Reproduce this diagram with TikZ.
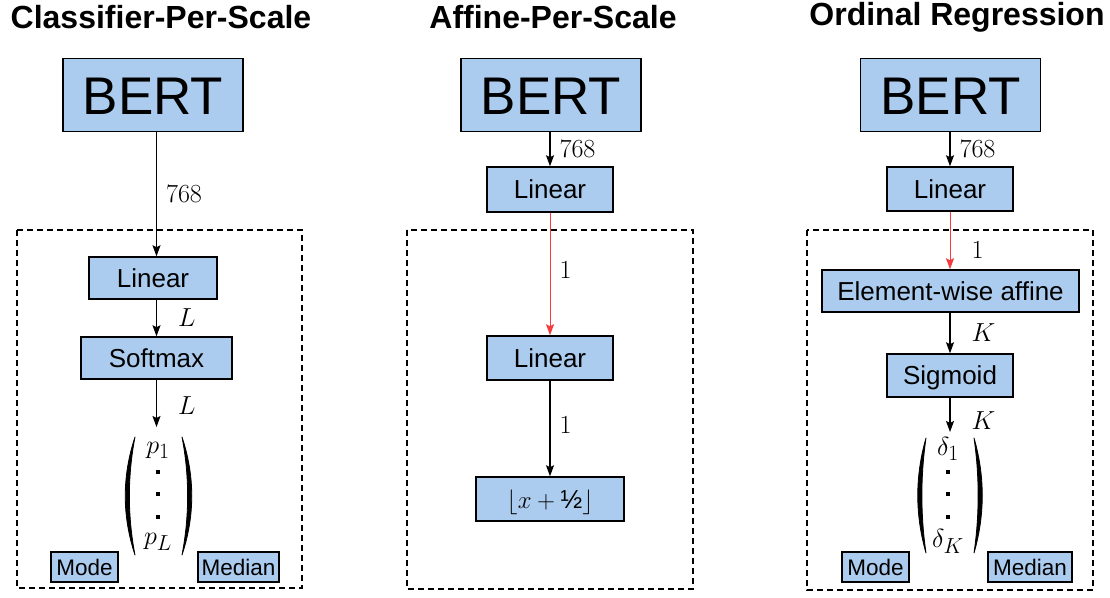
\documentclass[tikz,border=0pt]{standalone}
\usepackage{fontspec}
\usepackage{graphicx}
\newfontfamily\helv{Liberation Sans}
\usetikzlibrary{arrows.meta,calc}
\definecolor{boxblue}{RGB}{171,204,238}
\definecolor{redline}{RGB}{245,60,60}
\newcommand\mlab[1]{\scalebox{1.05}{$#1$}}
\begin{document}
\begin{tikzpicture}[x=1pt,y=-1pt,
  blk/.style={draw=black,line width=1.5pt,fill=boxblue,inner sep=0pt,text=black},
  mid/.style={blk,minimum height=42pt,text height=20.6pt,text depth=2pt,font=\helv\fontsize{26}{31}\selectfont},
  bertbox/.style={blk,minimum width=180pt,minimum height=73pt,text height=40pt,text depth=2pt,font=\helv\fontsize{53}{60}\selectfont},
  smallbox/.style={blk,minimum height=30pt,text height=18pt,text depth=1.9pt,font=\helv\fontsize{22.5}{26}\selectfont},
  arr/.style={-{Stealth[length=11pt,width=8pt,inset=2pt]},line width=1.1pt},
  redarr/.style={-{Stealth[length=11pt,width=8pt,inset=2pt]},line width=1pt,draw=redline},
  lab/.style={anchor=west,inner sep=0pt,xshift=9pt,font=\fontsize{24.88}{30}\selectfont},
  labw/.style={lab,xshift=12pt},
  mathtxt/.style={inner sep=0pt,font=\fontsize{24.88}{30}\selectfont},
  frame/.style={draw=black,line width=2.2pt,dash pattern=on 6pt off 4pt},
  ttl/.style={font=\helv\bfseries\fontsize{32}{38}\selectfont},
  parenfill/.style={fill=black,draw=black,line width=0.8pt,line join=round},
]
\useasboundingbox (0,0) rectangle (1110,597);

% ---------------- Panel 1: Classifier-Per-Scale ----------------
\node[ttl] (t1) at (161,17) {Classifier-Per-Scale};
\node[bertbox] (bert1) at (153,95) {BERT};
\draw[frame] (17,230) rectangle (302,588);
\node[mid,minimum width=128pt] (lin1) at (153,278) {Linear};
\node[mid,minimum width=151pt] (soft1) at (156.5,358) {Softmax};
\coordinate (m1) at (156.5,427);
\node[mathtxt] (p1) at (158,450) {\mlab{p_1}};
\node[mathtxt] (pL) at (158,542) {\mlab{p_L}};
\node[smallbox,minimum width=67pt] (mode1) at (84.5,567) {Mode};
\node[smallbox,minimum width=81pt] (med1) at (238.5,567) {Median};
\draw[arr] (bert1.south -| soft1) -- (lin1.north -| soft1) node[lab,midway] {\mlab{768}};
\draw[arr] (lin1.south -| soft1) -- (soft1.north) node[labw,midway] {\mlab{L}};
\draw[arr] (soft1.south) -- (m1) node[labw,pos=0.55] {\mlab{L}};
\foreach \yy in {472,494,517} \fill (158,\yy) +(-2.3,-2.3) rectangle +(2.3,2.3);
\fill[parenfill] (135,437) .. controls (122,476) and (122,516) .. (135,555)
  .. controls (127.5,516) and (127.5,476) .. cycle;
\fill[parenfill] (182,437) .. controls (195,476) and (195,516) .. (182,555)
  .. controls (189.5,516) and (189.5,476) .. cycle;

% ---------------- Panel 2: Affine-Per-Scale ----------------
\node[ttl] (t2) at (553,17) {Affine-Per-Scale};
\node[bertbox] (bert2) at (551,95) {BERT};
\draw[frame] (407,230) rectangle (693,589);
\node[mid,minimum width=126pt,minimum height=45pt] (lin2a) at (550,189.5) {Linear};
\node[mid,minimum width=126pt,minimum height=44pt] (lin2b) at (550,358) {Linear};
\node[mid,minimum width=148pt,minimum height=44pt] (floor2) at (550,499) {$\lfloor x+\mbox{\helv ½}\rfloor$};
\draw[arr] (bert2.south -| lin2a) -- (lin2a.north) node[lab,midway] {\mlab{768}};
\draw[redarr] (lin2a.south) -- (lin2b.north) node[lab,pos=0.47,text=black] {\mlab{1}};
\draw[arr] (lin2b.south) -- (floor2.north) node[lab,pos=0.46] {\mlab{1}};

% ---------------- Panel 3: Ordinal Regression ----------------
\node[ttl] (t3) at (957,17) {Ordinal Regression};
\node[bertbox] (bert3) at (950.5,95) {BERT};
\draw[frame] (807,230) rectangle (1093,590);
\node[mid,minimum width=126pt,minimum height=44pt] (lin3) at (950,189) {Linear};
\node[mid,minimum width=257pt] (ew3) at (950.5,291) {Element-wise affine};
\node[mid,minimum width=126pt,minimum height=43pt] (sig3) at (950,375.5) {Sigmoid};
\coordinate (m3) at (950,432);
\node[mathtxt] (d1) at (948,449) {\mlab{\delta_1}};
\node[mathtxt] (dK) at (948,541) {\mlab{\delta_K}};
\node[smallbox,minimum width=67pt] (mode3) at (875.5,567) {Mode};
\node[smallbox,minimum width=84pt] (med3) at (1030,567) {Median};
\draw[arr] (bert3.south -| lin3) -- (lin3.north) node[lab,midway] {\mlab{768}};
\draw[redarr] (lin3.south) -- (lin3.south |- ew3.north) node[labw,pos=0.66,text=black] {\mlab{1}};
\draw[arr] (ew3.south -| sig3) -- (sig3.north) node[labw,midway] {\mlab{K}};
\draw[arr] (sig3.south) -- (m3) node[labw,pos=0.66] {\mlab{K}};
\foreach \yy in {472,494,517} \fill (948,\yy) +(-2.3,-2.3) rectangle +(2.3,2.3);
\fill[parenfill] (926,438) .. controls (915,476) and (915,515) .. (926,553)
  .. controls (920.5,515) and (920.5,476) .. cycle;
\fill[parenfill] (974,438) .. controls (985,476) and (985,515) .. (974,553)
  .. controls (979.5,515) and (979.5,476) .. cycle;
\end{tikzpicture}
\end{document}
